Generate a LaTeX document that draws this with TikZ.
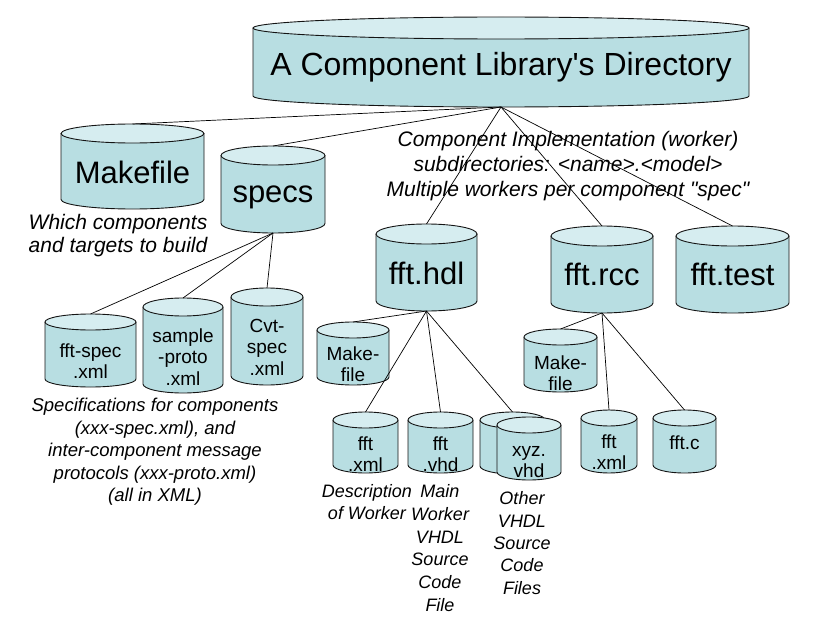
\documentclass[tikz,border=0pt]{standalone}
\usepackage{fontspec}
\setmainfont{Liberation Sans}
\definecolor{cylbodyc}{RGB}{184,222,226}
\definecolor{cyltopc}{RGB}{214,237,240}
\definecolor{edgec}{RGB}{20,20,20}
\tikzset{
  cylbody/.style={fill=cylbodyc},
  cylline/.style={draw=edgec,line width=0.9pt},
  cyltop/.style={fill=cyltopc,draw=edgec,line width=0.9pt},
  cylframe/.style={inner sep=0pt,outer sep=0pt},
  cyltext/.style={inner sep=0pt,align=center,text=black},
  bigtext/.style={font=\fontsize{31}{36}\selectfont},
  smalltext/.style={font=\fontsize{19}{21.5}\selectfont},
  conn/.style={draw=black,line width=0.7pt},
  note/.style={inner sep=0pt,align=center,text=black},
}
\newcommand\cylinderbox[9][]{%
  \pgfmathsetmacro\cyx{(#3+#4)/2}%
  \pgfmathsetmacro\cyrx{(#4-#3)/2}%
  \pgfmathsetmacro\cyyt{-(#5)-(#7)}%
  \pgfmathsetmacro\cyyb{-(#6)+(#7)}%
  \pgfmathsetmacro\cyw{#4-#3}%
  \pgfmathsetmacro\cyh{#6-#5}%
  \pgfmathsetmacro\cymid{-(#5+#6)/2}%
  \path[cylbody] (#3,\cyyt) -- (#3,\cyyb) arc[start angle=180,end angle=360,x radius=\cyrx,y radius=#7] -- (#4,\cyyt) -- cycle;
  \draw[cylline] (#3,\cyyt) -- (#3,\cyyb) arc[start angle=180,end angle=360,x radius=\cyrx,y radius=#7] -- (#4,\cyyt);
  \path[cyltop] (\cyx,\cyyt) ellipse[x radius=\cyrx,y radius=#7];
  \node[cylframe,minimum width=\cyw pt,minimum height=\cyh pt] (#2) at (\cyx,\cymid) {};
  \node[cyltext,#1] (#2t) at (\cyx,-#8) {#9};
}
\begin{document}
\begin{tikzpicture}[x=1pt,y=1pt]
\useasboundingbox (0,0) rectangle (820,-626);

% main cylinders
\cylinderbox[font=\fontsize{32}{36}\selectfont]{top}{253}{749}{17}{107}{11}{67}{A Component Library\textquotesingle s Directory}
\cylinderbox[bigtext]{make}{61}{204}{124}{209}{9.5}{172}{Makefile}
\cylinderbox[bigtext]{specs}{221}{325}{146}{233}{9.5}{197}{specs}
\cylinderbox[bigtext]{hdl}{376}{477}{224}{311}{10}{273}{fft.hdl}
\cylinderbox[bigtext]{rcc}{551}{653}{226}{313}{10}{274}{fft.rcc}
\cylinderbox[bigtext]{test}{676}{789}{226}{313}{10}{274}{fft.test}

% spec files
\cylinderbox[smalltext]{fspec}{45}{136}{314}{387}{8}{361}{fft-spec\\.xml}
\cylinderbox[smalltext]{sproto}{143}{223}{298}{393}{9}{357}{sample\\-proto\\.xml}
\cylinderbox[smalltext]{cvt}{231}{303}{288}{385}{9}{347}{Cvt-\\spec\\.xml}

% hdl files
\cylinderbox[smalltext]{mkh}{317}{389}{322}{385}{8}{364}{Make-\\file}
\cylinderbox[smalltext]{fxh}{333}{398}{412}{473}{8}{454}{fft\\.xml}
\cylinderbox[smalltext]{fvh}{408}{473}{412}{473}{8}{454}{fft\\.vhd}
\cylinderbox[smalltext]{xyzb}{480}{545}{412}{474}{8}{443}{}
\cylinderbox[smalltext]{xyz}{497}{561}{417}{480}{8}{462}{xyz.\\vhd}

% rcc files
\cylinderbox[smalltext]{mkr}{524}{597}{329}{392}{8}{373}{Make-\\file}
\cylinderbox[smalltext]{fxr}{581}{637}{410}{473}{8}{452}{fft\\.xml}
\cylinderbox[smalltext]{fc}{653}{716}{410}{473}{8}{443}{fft.c}

% connectors
\foreach \t in {make,specs,hdl,rcc,test} \draw[conn] (top.south) -- (\t.north);
\foreach \t in {fspec,sproto,cvt} \draw[conn] (specs.south) -- (\t.north);
\foreach \t in {mkh,fxh,fvh,xyzb} \draw[conn] (hdl.south) -- (\t.north);
\foreach \t in {mkr,fxr,fc} \draw[conn] (rcc.south) -- (\t.north);

% notes
\node[note,font=\fontsize{21}{23}\selectfont\itshape] (nmake) at (118,-236) {Which components\\and targets to build};
\node[note,font=\fontsize{21}{25}\selectfont\itshape] (nimpl) at (568,-166) {Component Implementation (worker)\\subdirectories: <name>.<model>\\Multiple workers per component \textquotedbl spec\textquotedbl};
\node[note,font=\fontsize{18.5}{22.5}\selectfont\itshape] (nspec) at (155,-452) {Specifications for components\\(xxx-spec.xml), and\\inter-component message\\protocols (xxx-proto.xml)\\(all in XML)};
\node[note,font=\fontsize{18}{21.5}\selectfont\itshape] (ndesc) at (367,-502) {Description\\of Worker};
\node[note,font=\fontsize{18}{22.8}\selectfont\itshape] (nmain) at (440,-548) {Main\\Worker\\VHDL\\Source\\Code\\File};
\node[note,font=\fontsize{18}{22.3}\selectfont\itshape] (nother) at (522,-543) {Other\\VHDL\\Source\\Code\\Files};
\end{tikzpicture}
\end{document}
